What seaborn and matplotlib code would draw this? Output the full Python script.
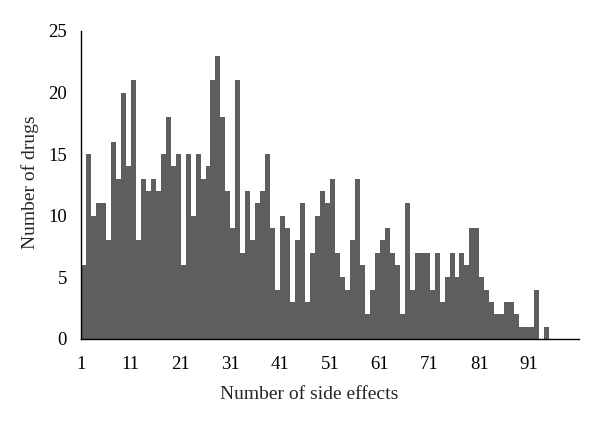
import numpy as np
import pandas as pd
import matplotlib
matplotlib.use("Agg")
import matplotlib.pyplot as plt
import seaborn as sns

# number of side effects (1..100) and how many drugs have each count
side_effects = list(range(1, 101))
drug_counts = [6, 15, 10, 11, 11, 8, 16, 13, 20, 14,
               21, 8, 13, 12, 13, 12, 15, 18, 14, 15,
               6, 15, 10, 15, 13, 14, 21, 23, 18, 12,
               9, 21, 7, 12, 8, 11, 12, 15, 9, 4,
               10, 9, 3, 8, 11, 3, 7, 10, 12, 11,
               13, 7, 5, 4, 8, 13, 6, 2, 4, 7,
               8, 9, 7, 6, 2, 11, 4, 7, 7, 7,
               4, 7, 3, 5, 7, 5, 7, 6, 9, 9,
               5, 4, 3, 2, 2, 3, 3, 2, 1, 1,
               1, 4, 0, 1, 0, 0, 0, 0, 0, 0]
tick_values = [1, 11, 21, 31, 41, 51, 61, 71, 81, 91, 101]
tick_labels = ["1", "11", "21", "31", "41", "51", "61", "71", "81", "91", ""]

df = pd.DataFrame({"side_effects": side_effects, "drugs": drug_counts})

sns.set_style("white")
plt.rcParams["font.family"] = ["Liberation Serif", "DejaVu Serif"]

fig = plt.figure(figsize=(6, 4.23), dpi=100)
ax = fig.add_axes([0.135, 0.1986, 0.83, 0.7284])

sns.histplot(data=df, x="side_effects", weights="drugs", binwidth=1,
             binrange=(1, 101), color="#5e5e5e", alpha=1, linewidth=0,
             ax=ax)

ax.set_xlim(1, 101)
ax.set_ylim(0, 25)
ax.set_xticks(tick_values)
ax.set_xticklabels(tick_labels)
ax.set_yticks([0, 5, 10, 15, 20, 25])
ax.tick_params(axis="both", direction="out", length=4, width=1,
               colors="black", labelsize=13.5)
ax.tick_params(axis="x", pad=8)
ax.tick_params(axis="y", pad=6)

sns.despine(ax=ax)
for s in ["left", "bottom"]:
    ax.spines[s].set_color("black")
    ax.spines[s].set_linewidth(1)

ax.set_xlabel("Number of side effects", fontsize=14)
ax.set_ylabel("Number of drugs", fontsize=14)
ax.xaxis.set_label_coords(0.458, -0.153)
ax.yaxis.set_label_coords(-0.084, 0.508)

fig.savefig("out.png", dpi=100)
